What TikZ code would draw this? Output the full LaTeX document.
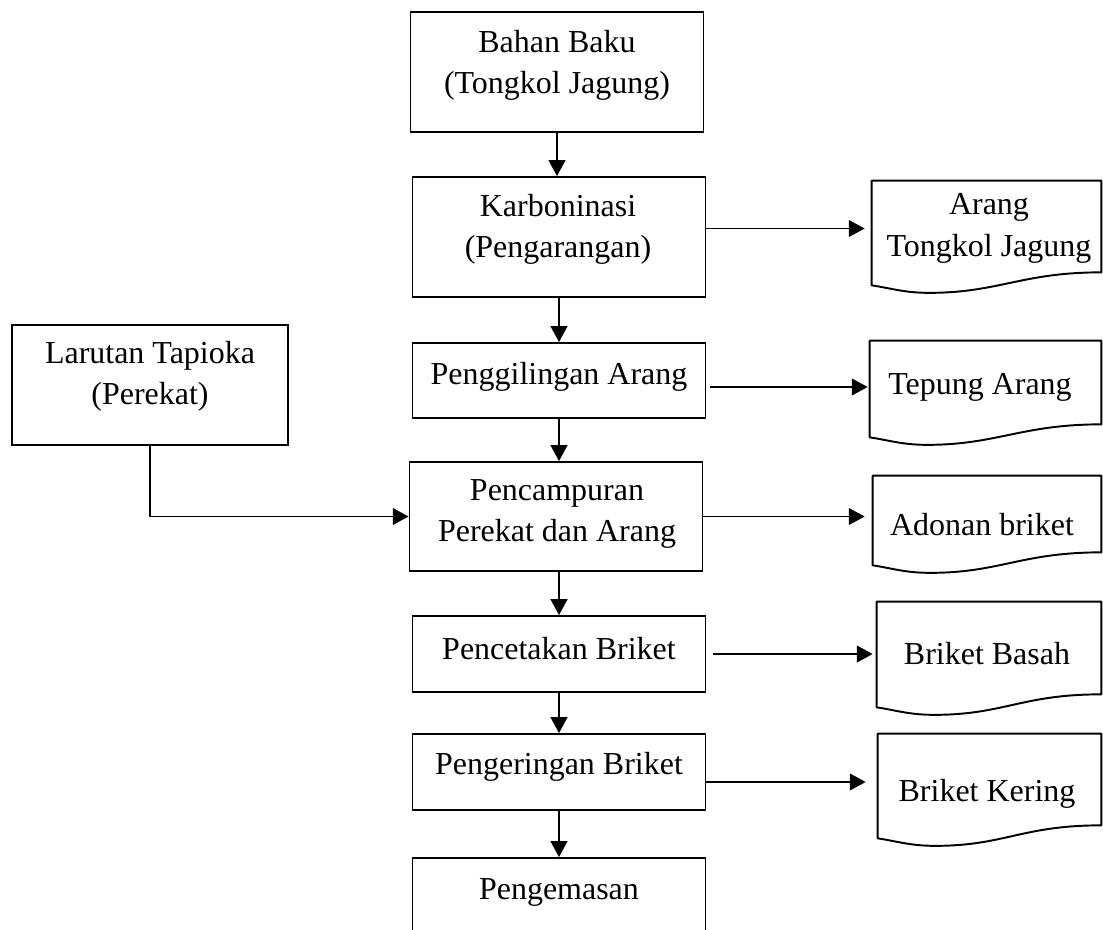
\documentclass[tikz,border=0pt]{standalone}
\usepackage{fontspec}
\setmainfont{Liberation Serif}
\usetikzlibrary{positioning, arrows.meta, calc}

\tikzset{
  proc/.style={draw, line width=1.1pt, minimum width=5.86cm, inner sep=0pt},
  docbox/.style={inner sep=0pt},
  lbl/.style={align=center, inner sep=0pt, font=\fontsize{18.2}{23.5}\selectfont},
  flow/.style={line width=1pt, -{Triangle[length=9pt,width=9.5pt]}},
  docline/.style={line width=1.1pt, line join=round}
}
\newcommand{\docoutline}[1]{%
  \draw[docline] (#1.south west) -- (#1.north west) -- (#1.north east)
    -- ([yshift=0.26cm]#1.south east)
    .. controls +(-1.6cm,0) and +(1.4cm,0) .. ([xshift=1.15cm,yshift=-0.15cm]#1.south west)
    .. controls +(-0.5cm,0) and +(0.4cm,-0.06cm) .. (#1.south west) -- cycle;}

\begin{document}
\begin{tikzpicture}[x=0.02cm, y=-0.02cm]
\useasboundingbox (0,0) rectangle (1103,930);
\clip (0,0) rectangle (1103,930);

\node[proc, minimum height=2.4cm] (bahan) at (557,72) {};
\node[lbl] (bahanT) at (557,65) {Bahan Baku\\(Tongkol Jagung)};
\node[proc, minimum height=2.4cm] (karbon) at (559,237) {};
\node[lbl] (karbonT) at (558,229) {Karboninasi\\(Pengarangan)};
\node[proc, minimum height=1.5cm] (giling) at (559,380.5) {};
\node[lbl] (gilingT) at (559,377) {Penggilingan Arang};
\node[proc, minimum height=2.18cm] (campur) at (556,516.5) {};
\node[lbl] (campurT) at (557,514) {Pencampuran\\Perekat dan Arang};
\node[proc, minimum height=1.52cm] (cetak) at (559,654) {};
\node[lbl] (cetakT) at (559,649) {Pencetakan Briket};
\node[proc, minimum height=1.52cm] (kering) at (559,772) {};
\node[lbl] (keringT) at (559,767) {Pengeringan Briket};
\node[proc, minimum height=1.7cm] (kemas) at (559,900.5) {};
\node[lbl] (kemasT) at (559,892) {Pengemasan};

\node[proc, minimum width=5.52cm, minimum height=2.4cm] (larutan) at (150,385) {};
\node[lbl] (larutanT) at (150,376) {Larutan Tapioka\\(Perekat)};

\node[docbox, minimum width=4.58cm, minimum height=2.08cm] (arang) at (986.5,233) {};
\node[lbl] (arangT) at (989,228.5) {Arang\\Tongkol Jagung};
\node[docbox, minimum width=4.62cm, minimum height=1.92cm] (tepung) at (985.5,389) {};
\node[lbl] (tepungT) at (980,387) {Tepung Arang};
\node[docbox, minimum width=4.56cm, minimum height=1.78cm] (adonan) at (987,520.5) {};
\node[lbl] (adonanT) at (982,525) {Adonan briket};
\node[docbox, minimum width=4.48cm, minimum height=2.10cm] (basah) at (989,654.5) {};
\node[lbl] (basahT) at (987,654) {Briket Basah};
\node[docbox, minimum width=4.46cm, minimum height=2.08cm] (keringd) at (989.5,786) {};
\node[lbl] (keringdT) at (987,794) {Briket Kering};

\foreach \docname in {arang,tepung,adonan,basah,keringd}
  \docoutline{\docname};

\draw[flow] (bahan.south) -- (bahan.south |- karbon.north);
\draw[flow] (karbon.south) -- (giling.north);
\draw[flow] (giling.south) -- (giling.south |- campur.north);
\draw[flow] (campur.south -| cetak) -- (cetak.north);
\draw[flow] (cetak.south) -- (kering.north);
\draw[flow] (kering.south) -- (kemas.north);
\draw[flow] (larutan.south) |- (campur.west);

\coordinate (keringout) at ([yshift=-0.2cm]kering.east);
\draw[flow] (karbon.east |- arangT) -- ([xshift=-0.14cm]arang.west |- arangT);
\draw[flow, shorten <=0.08cm] (giling.east |- tepungT) -- ([xshift=-0.04cm]tepung.west |- tepungT);
\draw[flow] (campur.east) -- ([xshift=-0.16cm]adonan.west |- campur.east);
\draw[flow, shorten <=0.14cm] (cetak.east) -- ([xshift=-0.08cm]basah.west |- cetak.east);
\draw[flow] (keringout) -- ([xshift=-0.24cm]keringd.west |- keringout);

\end{tikzpicture}
\end{document}
